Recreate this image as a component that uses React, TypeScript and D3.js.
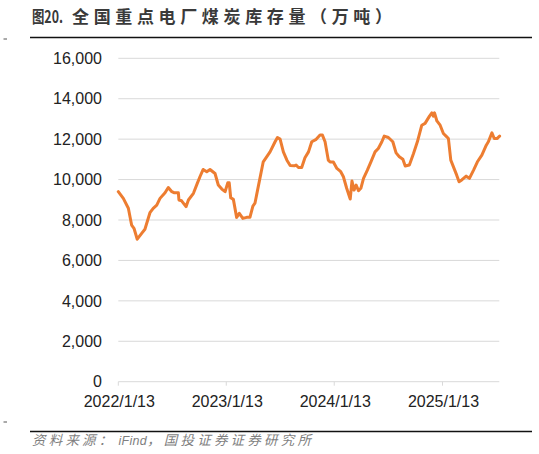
import React from "react";
import * as d3 from "d3";

const dates: string[] = [
  "2022-01-13","2022-01-30","2022-02-16","2022-02-27","2022-03-07","2022-03-18","2022-04-02","2022-04-13","2022-04-30","2022-05-11",
  "2022-05-23","2022-06-03","2022-06-20","2022-07-01","2022-07-13","2022-07-20","2022-08-04","2022-08-06","2022-08-15","2022-08-30",
  "2022-09-07","2022-09-24","2022-10-07","2022-10-16","2022-10-27","2022-11-08","2022-11-19","2022-12-06","2022-12-17","2022-12-29",
  "2023-01-09","2023-01-18","2023-01-23","2023-01-28","2023-02-06","2023-02-17","2023-02-26","2023-03-10","2023-03-23","2023-04-03",
  "2023-04-13","2023-04-20","2023-05-01","2023-05-18","2023-06-10","2023-06-27","2023-07-05","2023-07-14","2023-07-25","2023-08-06",
  "2023-08-17","2023-08-31","2023-09-06","2023-09-14","2023-09-25","2023-10-06","2023-10-18","2023-10-29","2023-11-13","2023-11-26",
  "2023-12-04","2023-12-13","2023-12-24","2023-12-30","2024-01-10","2024-01-22","2024-02-04","2024-02-13","2024-02-24","2024-03-07",
  "2024-03-13","2024-03-20","2024-03-27","2024-04-04","2024-04-12","2024-04-21","2024-05-04","2024-05-16","2024-05-30","2024-06-10",
  "2024-06-22","2024-06-30","2024-07-14","2024-07-29","2024-08-09","2024-08-20","2024-09-01","2024-09-09","2024-09-23","2024-10-07",
  "2024-10-20","2024-11-04","2024-11-15","2024-11-30","2024-12-08","2024-12-13","2024-12-17","2024-12-25","2025-01-05","2025-01-16",
  "2025-01-25","2025-02-02","2025-02-10","2025-02-19","2025-03-02","2025-03-10","2025-03-19","2025-04-03","2025-04-14","2025-04-28",
  "2025-05-11","2025-05-26","2025-06-10","2025-06-17","2025-06-29","2025-07-07","2025-07-16","2025-07-25"
];

const stock: number[] = [
  9400,9070,8580,7750,7590,7050,7340,7540,8360,8580,
  8740,9070,9350,9610,9400,9350,9350,8990,8950,8660,
  8990,9320,9810,10140,10500,10390,10500,10300,9730,9530,
  9400,9840,9840,9100,9020,8130,8330,8080,8130,8130,
  8690,8830,9640,10880,11370,11870,12080,12000,11370,10960,
  10700,10680,10720,10600,10600,11080,11370,11870,11990,12200,
  12200,11870,10960,10870,10870,10550,10390,10140,9570,9040,
  9930,9480,9730,9450,9570,10060,10470,10880,11370,11540,
  11870,12150,12080,11870,11320,11130,11010,10670,10720,11290,
  11870,12690,12780,13140,13300,13140,13300,12900,12690,12280,
  12150,12030,10960,10630,10220,9890,9980,10170,10060,10470,
  10880,11210,11700,11870,12310,12030,12030,12150
];

const yTicks: number[] = [0, 2000, 4000, 6000, 8000, 10000, 12000, 14000, 16000];
const xTickLabels: string[] = ["2022/1/13", "2023/1/13", "2024/1/13", "2025/1/13"];

const titleHead = "图20.";
const titleBody = "全国重点电厂煤炭库存量（万吨）";
const sourceHead = "资料来源：";
const sourceName = "iFind";
const sourceTail = "，国投证券证券研究所";

export default function App() {
  const W = 539, H = 454;
  const parse = d3.timeParse("%Y-%m-%d");
  const tparse = d3.timeParse("%Y/%m/%d");
  const data = dates.map((d, i) => ({ date: parse(d) as Date, v: stock[i] }));
  const x = d3.scaleTime()
    .domain([parse("2022-01-13") as Date, parse("2025-07-24") as Date])
    .range([118.3, 499.3]);
  const y = d3.scaleLinear().domain([0, 16000]).range([381.7, 58.3]);
  const line = d3.line<{ date: Date; v: number }>()
    .x(d => x(d.date))
    .y(d => y(d.v))
    .curve(d3.curveLinear);
  const fmt = d3.format(",");
  const font = "'Liberation Sans', Arial, Helvetica, sans-serif";
  const cjk = "'Noto Sans CJK SC', sans-serif";
  const [x0, x1] = x.range();

  return (
    <svg width={W} height={H} style={{ position: "absolute", left: 0, top: 0, background: "#fff" }}>
      <rect x={0} y={0} width={W} height={H} fill="#fff" />
      {/* header */}
      <text x={32} y={23} fontFamily={cjk} fontSize={17} fontWeight={700} fill="#3a3a3a">
        <tspan textLength={31} lengthAdjust="spacingAndGlyphs">{titleHead}</tspan>
      </text>
      <text x={72} y={23} fontFamily={cjk} fontSize={17} fontWeight={700} fill="#3a3a3a"
        textLength={320} lengthAdjust="spacing">{titleBody}</text>
      <line x1={30} x2={532} y1={37.5} y2={37.5} stroke="#111" strokeWidth={1.6} />
      <line x1={3.5} x2={7} y1={39} y2={39} stroke="#555" strokeWidth={1} />
      {/* gridlines */}
      {yTicks.map(t => (
        <line key={"g" + t} x1={x0} x2={x1} y1={y(t)} y2={y(t)} stroke="#d9d9d9" strokeWidth={1} />
      ))}
      {/* y labels */}
      {yTicks.map(t => (
        <text key={"yl" + t} x={102} y={y(t)} dy="0.36em" textAnchor="end"
          fontFamily={font} fontSize={16} fill="#222">{fmt(t)}</text>
      ))}
      {/* x ticks & labels */}
      {xTickLabels.map(lbl => {
        const xp = x(tparse(lbl) as Date);
        return (
          <g key={lbl}>
            <line x1={xp} x2={xp} y1={y(0)} y2={y(0) + 4} stroke="#d9d9d9" strokeWidth={1} />
            <text x={xp + 1} y={407} textAnchor="middle" fontFamily={font} fontSize={16} fill="#222">{lbl}</text>
          </g>
        );
      })}
      {/* series */}
      <path d={line(data) || ""} fill="none" stroke="#ED7D31" strokeWidth={3} strokeLinejoin="round" strokeLinecap="round" />
      {/* footer */}
      <line x1={30} x2={532} y1={431.5} y2={431.5} stroke="#111" strokeWidth={1.6} />
      <line x1={3.5} x2={7} y1={422} y2={422} stroke="#555" strokeWidth={1} />
      <text x={32} y={445} fontFamily={cjk} fontSize={13.5} fontStyle="italic" fill="#7f7f7f">
        <tspan letterSpacing={3.2}>{sourceHead}</tspan>
        <tspan fontFamily={font} fontSize={12.5} letterSpacing={0.3} dx={3}>{sourceName}</tspan>
        <tspan letterSpacing={3.2}>{sourceTail}</tspan>
      </text>
    </svg>
  );
}
